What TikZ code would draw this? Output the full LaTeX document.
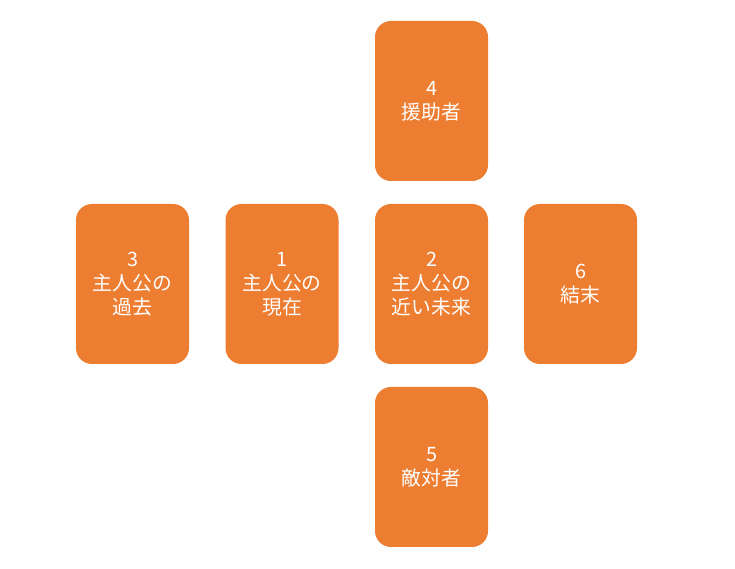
\documentclass[tikz,border=0pt]{standalone}
\usepackage{fontspec}
\setmainfont{Noto Sans CJK JP}
\definecolor{cardorange}{HTML}{ED7D31}
\tikzset{
  card/.style={fill=cardorange, draw=none, rounded corners=16pt,
    minimum width=113pt, minimum height=160pt, inner sep=0pt,
    text=white, align=center, font=\fontsize{19.8}{24}\selectfont}
}
\begin{document}
\begin{tikzpicture}[x=1pt,y=1pt]
\useasboundingbox (0,0) rectangle (735,569);
\node[card] (c4) at (431.5,468) {4\\援助者};
\node[card] (c3) at (132.5,285) {3\\主人公の\\過去};
\node[card] (c1) at (282,285) {1\\主人公の\\現在};
\node[card] (c2) at (431.5,285) {2\\主人公の\\近い未来};
\node[card] (c6) at (580.5,285) {6\\結末};
\node[card] (c5) at (431.5,102) {5\\敵対者};
\end{tikzpicture}
\end{document}
